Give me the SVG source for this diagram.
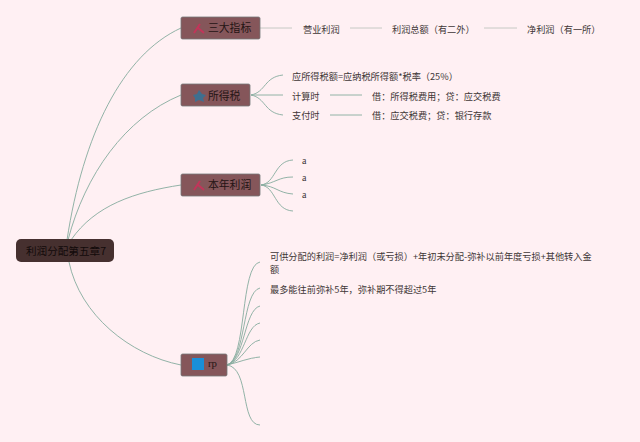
<svg xmlns="http://www.w3.org/2000/svg" width="640" height="442" viewBox="0 0 640 442">
<style>
text{font-family:"Noto Sans CJK SC","Liberation Sans",sans-serif;font-size:9.2px;fill:#3e3636}
.s{font-family:"Liberation Serif","Noto Sans CJK SC",serif}
.t{font-size:10.8px;fill:#241414}
.n{fill:#85565a;stroke:#74787a;stroke-width:.8}
.c path{fill:none;stroke:#86ab9e;stroke-width:.9}
.c .g{stroke:#bfc4c0}
</style>
<rect width="640" height="442" fill="#fff0f3"/>
<g class="c" id="connectors">
<path d="M67 240C83 135 122 55 181 28"/>
<path d="M68 240C85 175 125 118 181 95"/>
<path d="M71 240C95 205 135 192 181 185"/>
<path d="M69 262C80 315 130 355 181 365"/>
<path class="g" d="M260 28H292M350 28H382M484 28H517"/>
<path d="M251 95C266 92 264 77 283 75M251 95H283M251 95C266 98 264 113 283 115"/>
<path d="M330 95H362M330 115H362"/>
<path d="M261 185C276 183 274 161 293 160M261 185C276 183 278 177 293 177M261 185C276 186 278 193 293 194M261 185C276 187 274 210 293 211"/>
<path d="M227 365C247 360 240 265 260 262M227 365C246 360 242 292 260 288M227 365C245 360 244 310 260 306M227 365C245 360 245 326 260 323M227 365C243 362 247 342 260 340M227 365C240 362 248 358 260 357M227 365C250 368 240 425 260 425"/>
</g>
<g id="root"><rect x="16" y="239" width="98" height="23" rx="5" fill="#46302f"/><text x="26" y="255" class="t" style="fill:#120a0a;font-size:10.6px">利润分配第五章7</text></g>
<g id="n1"><rect class="n" x="181" y="17" width="79" height="22" rx="1.5"/><path d="M194 33L200 24M197 27L204 33" stroke="#c2355a" stroke-width="2" fill="none"/><text x="208" y="32" class="t">三大指标</text></g>
<g id="n2"><rect class="n" x="181" y="84" width="69" height="22" rx="1.5"/><path d="M199 90L202 94 206 95 203 98 204 102 199 100 195 102 195 98 193 95 197 94Z" fill="#3f6f8f"/><text x="208" y="100" class="t">所得税</text></g>
<g id="n3"><rect class="n" x="181" y="174" width="79" height="22" rx="1.5"/><path d="M194 190L200 181M197 184L204 190" stroke="#c2355a" stroke-width="2" fill="none"/><text x="208" y="189" class="t">本年利润</text></g>
<g id="n4"><rect class="n" x="181" y="354" width="46" height="22" rx="1.5"/><rect x="192" y="358" width="12" height="12" fill="#1a8fd8"/><text x="208" y="367" class="t s">rp</text></g>
<g id="l1"><text x="303" y="33">营业利润</text></g>
<g id="l2"><text x="392" y="33">利润总额（有二外）</text></g>
<g id="l3"><text x="527" y="33">净利润（有一所）</text></g>
<g id="l4"><text x="292" y="80">应所得税额=应纳税所得额*税率（25%）</text></g>
<g id="l5"><text x="292" y="100">计算时</text></g>
<g id="l6"><text x="372" y="100">借：所得税费用；贷：应交税费</text></g>
<g id="l7"><text x="292" y="119">支付时</text></g>
<g id="l8"><text x="372" y="119">借：应交税费；贷：银行存款</text></g>
<g id="l9"><text x="302" y="164" class="s" style="font-size:10px">a</text></g>
<g id="l10"><text x="302" y="181" class="s" style="font-size:10px">a</text></g>
<g id="l11"><text x="302" y="198" class="s" style="font-size:10px">a</text></g>
<g id="l12"><text x="270" y="260">可供分配的利润=净利润（或亏损）+年初未分配-弥补以前年度亏损+其他转入金</text><text x="270" y="273">额</text></g>
<g id="l13"><text x="270" y="293">最多能往前弥补5年，弥补期不得超过5年</text></g>
</svg>
